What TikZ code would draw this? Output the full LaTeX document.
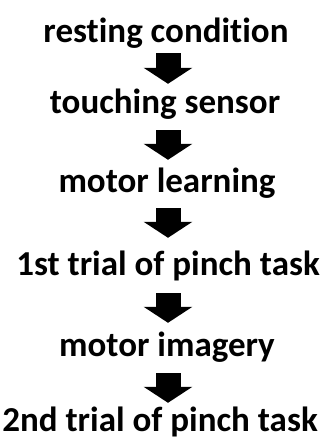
\documentclass[tikz,border=0pt]{standalone}
\usepackage{fontspec}
\setmainfont{Carlito}[Ligatures=NoCommon]
\usetikzlibrary{arrows.meta}

\begin{document}
\begin{tikzpicture}[x=1pt,y=-1pt,
      stage/.style={
         inner sep=0pt,
         anchor=base,
         text height=24pt,
         text depth=8pt,
         font=\bfseries\fontsize{35}{38}\selectfont
      },
      flow/.style={
         draw=black,
         line width=25pt,
         -{Triangle[width=48pt,length=16pt]}
      },
    ]
    \useasboundingbox (0,0) rectangle (326,439);
    \node (rest)   [stage] at (166,42)  {resting condition};
    \node (touch)  [stage] at (165,113) {touching sensor};
    \node (learn)  [stage] at (167,192) {motor learning};
    \node (trial1) [stage] at (168,275) {1st trial of pinch task};
    \node (image)  [stage] at (167,356) {motor imagery};
    \node (trial2) [stage] at (160,431) {2nd trial of pinch task};
    % arrows between the stages
    \draw[flow, shorten <=3pt, shorten >=5pt]   (rest.south -| 168,0)   -- (touch.north -| 168,0);
    \draw[flow, shorten <=9pt, shorten >=8pt]   (touch.south -| 168,0)  -- (learn.north -| 168,0);
    \draw[flow, shorten <=8pt, shorten >=13pt]  (learn.south -| 168,0)  -- (trial1.north -| 168,0);
    \draw[flow, shorten <=10pt, shorten >=9pt]  (trial1.south -| 168,0) -- (image.north -| 168,0);
    \draw[flow, shorten <=9pt, shorten >=4pt]   (image.south -| 168,0)  -- (trial2.north -| 168,0);
\end{tikzpicture}
\end{document}
